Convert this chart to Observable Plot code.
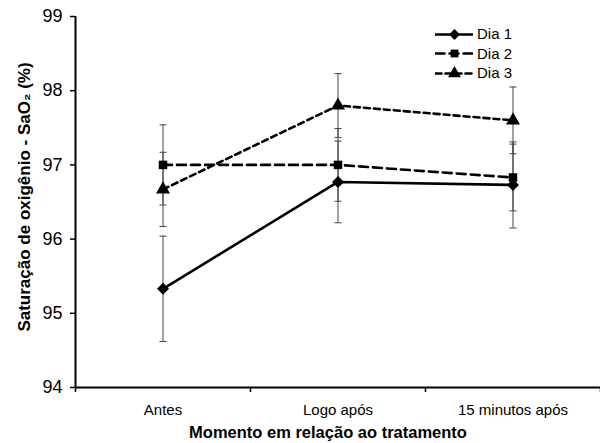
<!DOCTYPE html>
<html>
<head>
<meta charset="utf-8">
<script src="https://cdn.jsdelivr.net/npm/d3@7"></script>
<script src="https://cdn.jsdelivr.net/npm/@observablehq/plot@0.6"></script>
<style>
  html, body { margin: 0; padding: 0; background: #fff; }
  #wrap { position: relative; width: 600px; height: 443px; font-family: "Liberation Sans", Arial, sans-serif; }
  #legend { position: absolute; left: 435px; top: 24px; font-size: 15px; color: #000; }
  #legend .row { display: flex; align-items: center; height: 19.5px; }
  #legend svg { display: block; margin-right: 4px; }
</style>
</head>
<body>
<div id="wrap"><div id="legend"></div></div>
<script>
const categories = ["Antes", "Logo após", "15 minutos após"];
const seriesNames = ["Dia 1", "Dia 2", "Dia 3"];
const dia1Mean = [95.33, 96.77, 96.73];
const dia1Err  = [0.71, 0.55, 0.58];
const dia2Mean = [97.0, 97.0, 96.83];
const dia2Err  = [0.54, 0.49, 0.45];
const dia3Mean = [96.67, 97.8, 97.6];
const dia3Err  = [0.5, 0.43, 0.45];
const yTicks = [94, 95, 96, 97, 98, 99];

const means = [dia1Mean, dia2Mean, dia3Mean];
const errs = [dia1Err, dia2Err, dia3Err];
const squareDiamond = {
  draw(ctx, size) {
    const w = Math.sqrt(size / 2);
    ctx.moveTo(0, -w);
    ctx.lineTo(w, 0);
    ctx.lineTo(0, w);
    ctx.lineTo(-w, 0);
    ctx.closePath();
  }
};
const symbols = [squareDiamond, "square", "triangle"];
const dashes = [null, "9,5", "6,4"];
const markerR = [4.8, 4.8, 5.2];

const data = [];
seriesNames.forEach((s, si) => {
  categories.forEach((c, ci) => {
    data.push({series: s, si, cat: c, x: ci + 0.5, y: means[si][ci], lo: means[si][ci] - errs[si][ci], hi: means[si][ci] + errs[si][ci]});
  });
});

const capSymbol = {
  draw(ctx, size) {
    const w = Math.sqrt(size) / 2;
    ctx.moveTo(-w, 0);
    ctx.lineTo(w, 0);
  }
};

const marks = [
  Plot.ruleX(data, {x: "x", y1: "lo", y2: "hi", stroke: "#444", strokeWidth: 1}),
  Plot.dot(data, {x: "x", y: "lo", symbol: capSymbol, r: 4, stroke: "#444", strokeWidth: 1, fill: "none"}),
  Plot.dot(data, {x: "x", y: "hi", symbol: capSymbol, r: 4, stroke: "#444", strokeWidth: 1, fill: "none"})
];
seriesNames.forEach((s, si) => {
  const d = data.filter(e => e.si === si);
  marks.push(Plot.line(d, {x: "x", y: "y", stroke: "#000", strokeWidth: 2.6, strokeDasharray: dashes[si]}));
});
seriesNames.forEach((s, si) => {
  const d = data.filter(e => e.si === si);
  marks.push(Plot.dot(d, {x: "x", y: "y", symbol: symbols[si], r: markerR[si], fill: "#000", stroke: "none"}));
});

marks.push(
  Plot.ruleX([0], {stroke: "#000", strokeWidth: 2}),
  Plot.ruleY([94], {stroke: "#000", strokeWidth: 2}),
  Plot.axisY({ticks: yTicks, tickFormat: "d", tickSize: 5, tickPadding: 8, fontSize: 18, label: null, strokeWidth: 1.5}),
  Plot.axisX({ticks: [0.5, 1.5, 2.5], tickFormat: v => categories[Math.floor(v)], tickSize: 0, tickPadding: 17, fontSize: 15, label: null}),
  Plot.axisX({ticks: [0, 1, 2, 3], tickFormat: () => "", tickSize: 5, label: null, strokeWidth: 1.5}),
  Plot.text(["Saturação de oxigênio - SaO₂ (%)"], {frameAnchor: "left", textAnchor: "middle", rotate: -90, dx: -51, dy: -5, fontWeight: "bold", fontSize: 17, text: d => d}),
  Plot.text(["Momento em relação ao tratamento"], {frameAnchor: "bottom", dy: 50, dx: -10, fontWeight: "bold", fontSize: 16.5, text: d => d})
);

const chart = Plot.plot({
  width: 600,
  height: 443,
  marginLeft: 75,
  marginRight: 0,
  marginTop: 16,
  marginBottom: 56,
  style: {fontFamily: "Liberation Sans, Arial, sans-serif", fontSize: "15px", color: "#000", background: "#fff"},
  x: {type: "linear", domain: [0, 3], axis: null},
  y: {domain: [94, 99], axis: null},
  marks
});
const wrap = document.getElementById("wrap");
wrap.insertBefore(chart, wrap.firstChild);

// Legend
const legend = document.getElementById("legend");
seriesNames.forEach((s, si) => {
  const row = document.createElement("div");
  row.className = "row";
  const sw = Plot.plot({
    width: 38, height: 14, margin: 0,
    x: {domain: [0, 1], axis: null}, y: {domain: [0, 1], axis: null},
    marks: [
      Plot.line([[0, 0.5], [1, 0.5]], {stroke: "#000", strokeWidth: 2.6, strokeDasharray: dashes[si]}),
      Plot.dot([[0.5, 0.5]], {symbol: symbols[si], r: markerR[si] - 0.4, fill: "#000"})
    ]
  });
  row.appendChild(sw);
  const t = document.createElement("span");
  t.textContent = s;
  row.appendChild(t);
  legend.appendChild(row);
});
</script>
</body>
</html>
